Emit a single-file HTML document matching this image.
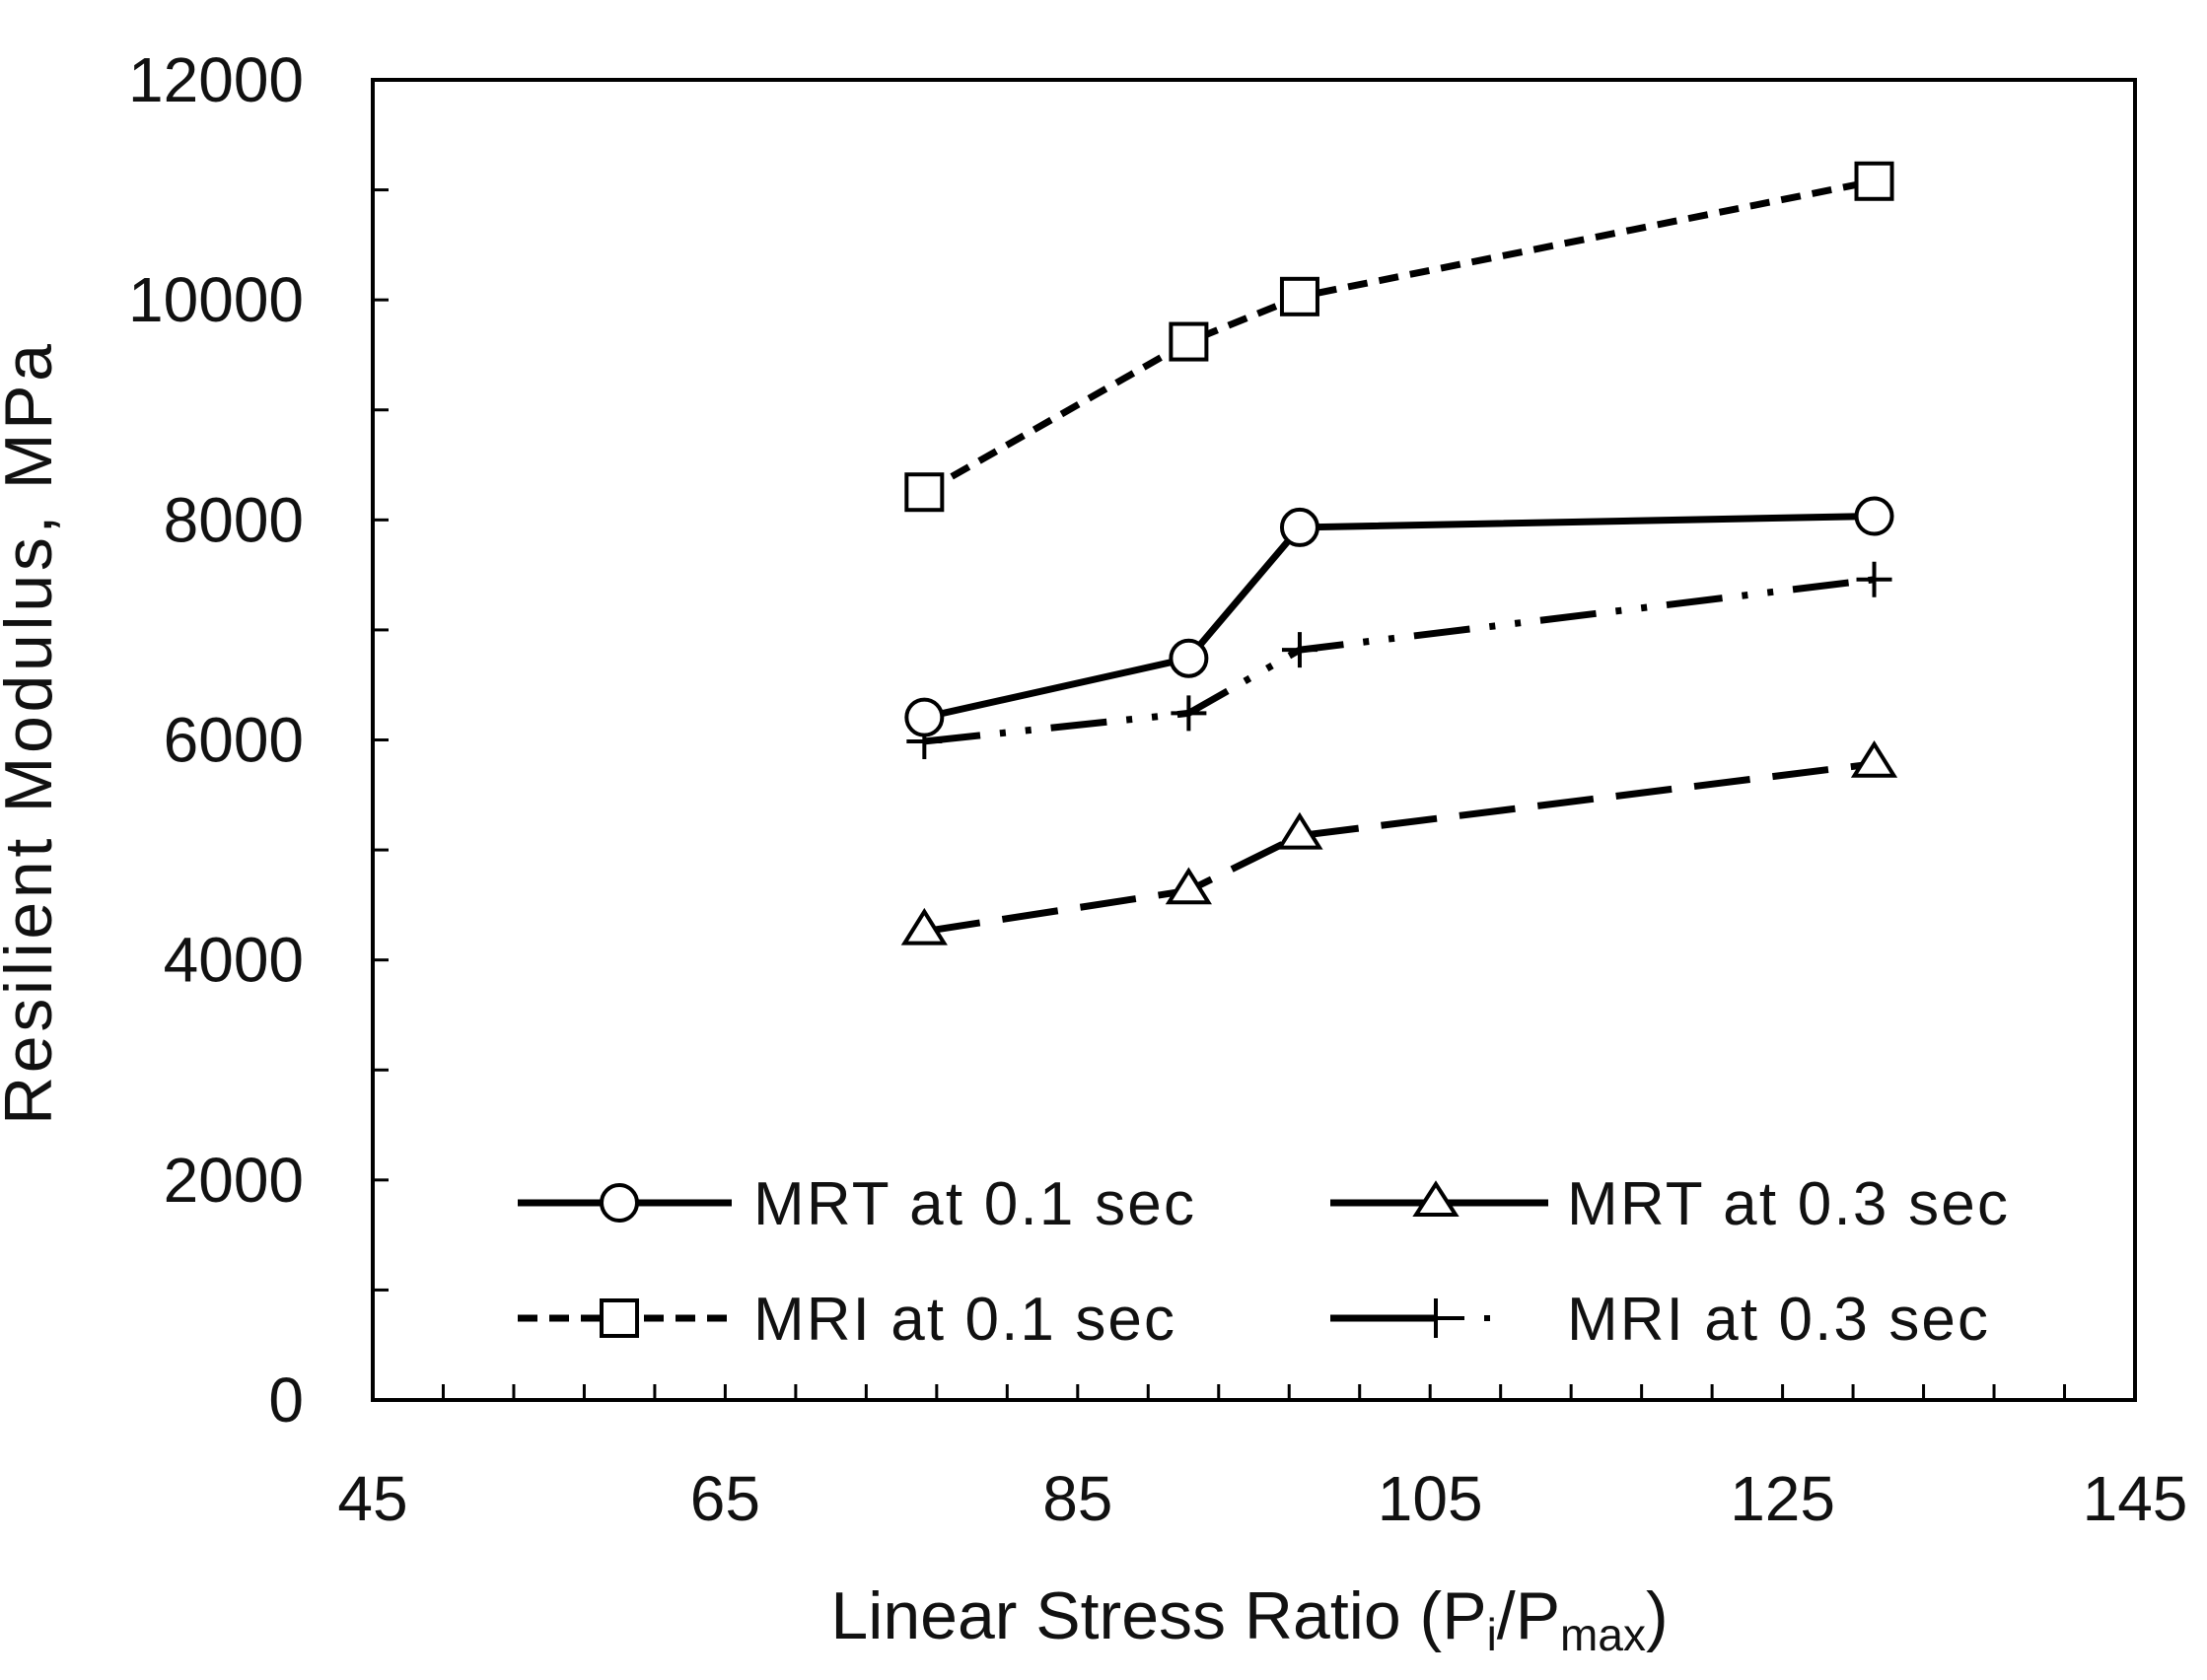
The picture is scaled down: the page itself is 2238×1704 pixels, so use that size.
<!DOCTYPE html>
<html><head><meta charset="utf-8"><style>
html,body{margin:0;padding:0;background:#fff;}
svg{display:block;font-family:"Liberation Sans",sans-serif;}
</style></head><body>
<svg id="chart" width="2238" height="1704" viewBox="0 0 2238 1704">
<rect x="378" y="81" width="1787" height="1339" fill="none" stroke="#000" stroke-width="4"/>
<g id="ticks"></g>
<g id="series"></g>
<text x="52" y="745" font-size="68" text-anchor="middle" textLength="792" transform="rotate(-90 52 745)" fill="#111">Resilient Modulus, MPa</text>
<text x="1267" y="1662" font-size="68" text-anchor="middle" fill="#111">Linear Stress Ratio (P<tspan font-size="46" dy="12">i</tspan><tspan dy="-12">/P</tspan><tspan font-size="46" dy="12">max</tspan><tspan dy="-12">)</tspan></text>
<g>
 <g>
  <line x1="525" y1="1220" x2="742" y2="1220" stroke="#000" stroke-width="7"/>
  <circle cx="628" cy="1220" r="18" fill="#fff" stroke="#000" stroke-width="4"/>
  <text x="764" y="1242" font-size="62" textLength="447" fill="#111">MRT at 0.1 sec</text>
 </g>
 <g>
  <line x1="1349" y1="1220" x2="1570" y2="1220" stroke="#000" stroke-width="7"/>
  <path d="M1456 1201 L1476 1232 L1436 1232 Z" fill="#fff" stroke="#000" stroke-width="4"/>
  <text x="1589" y="1242" font-size="62" textLength="447" fill="#111">MRT at 0.3 sec</text>
 </g>
 <g>
  <line x1="525" y1="1337" x2="742" y2="1337" stroke="#000" stroke-width="7" stroke-dasharray="20,12"/>
  <rect x="610" y="1319" width="36" height="36" fill="#fff" stroke="#000" stroke-width="4"/>
  <text x="764" y="1359" font-size="62" textLength="427" fill="#111">MRI at 0.1 sec</text>
 </g>
 <g>
  <line x1="1349" y1="1337" x2="1456" y2="1337" stroke="#000" stroke-width="7"/>
  <line x1="1456" y1="1337" x2="1485" y2="1337" stroke="#000" stroke-width="4"/>
  <rect x="1505" y="1334" width="6" height="6" fill="#000"/>
  <path d="M1456 1317 V1357 M1436 1337 H1476" stroke="#000" stroke-width="4"/>
  <text x="1589" y="1359" font-size="62" textLength="427" fill="#111">MRI at 0.3 sec</text>
 </g>
</g>
</svg>
<script>
const xValues = [76.3, 91.3, 97.6, 130.2];
const mrt01 = [6205, 6742, 7932, 8034];
const mrt03 = [4260, 4631, 5130, 5783];
const mri01 = [8252, 9620, 10030, 11079];
const mri03 = [5987, 6243, 6819, 7458];
const xTicks = [45, 65, 85, 105, 125, 145];
const yTicks = [0, 2000, 4000, 6000, 8000, 10000, 12000];

const NS = "http://www.w3.org/2000/svg";
const L = 378, R = 2165, T = 81, B = 1420;
const xs = v => L + (v - 45) / 100 * (R - L);
const ys = v => B - v / 12000 * (B - T);
function mk(tag, attrs, parent) {
  const e = document.createElementNS(NS, tag);
  for (const k in attrs) e.setAttribute(k, attrs[k]);
  parent.appendChild(e);
  return e;
}
const tg = document.getElementById("ticks");
for (let v = 45; v <= 145; v += 4) {
  const t = mk("line", {x1: xs(v), x2: xs(v), y1: B, y2: B - 16, stroke: "#000", "stroke-width": 3}, tg);
  
  
}
for (let v = 0; v <= 12000; v += 1000) {
  const t = mk("line", {x1: L, x2: L + 16, y1: ys(v), y2: ys(v), stroke: "#000", "stroke-width": 3}, tg);
  
  
}
xTicks.forEach(v => {
  const t = mk("text", {x: xs(v), y: 1542, "font-size": 64, "text-anchor": "middle", fill: "#111"}, tg);
  t.textContent = v;
  
  
});
yTicks.forEach(v => {
  const t = mk("text", {x: 308, y: ys(v) + 22, "font-size": 64, "text-anchor": "end", fill: "#111"}, tg);
  t.textContent = v;
  
  
});
const sg = document.getElementById("series");
function series(vals, dash, marker, name) {
  const g = mk("g", {}, sg);
  
  
  const pts = vals.map((v, i) => xs(xValues[i]) + "," + ys(v)).join(" ");
  const ln = mk("polyline", {points: pts, fill: "none", stroke: "#000", "stroke-width": 7, "stroke-dasharray": dash}, g);
  
  
  vals.forEach((v, i) => {
    const x = xs(xValues[i]), y = ys(v);
    let m;
    if (marker === "circle") m = mk("circle", {cx: x, cy: y, r: 18, fill: "#fff", stroke: "#000", "stroke-width": 4}, g);
    else if (marker === "square") m = mk("rect", {x: x - 18, y: y - 18, width: 36, height: 36, fill: "#fff", stroke: "#000", "stroke-width": 4}, g);
    else if (marker === "triangle") m = mk("path", {d: `M${x} ${y-20} L${x+20} ${y+12} L${x-20} ${y+12} Z`, fill: "#fff", stroke: "#000", "stroke-width": 4}, g);
    else m = mk("path", {d: `M${x} ${y-18} V${y+18} M${x-18} ${y} H${x+18}`, stroke: "#000", "stroke-width": 4}, g);
    
    
  });
}
series(mri01, "20,12", "square", "series-mri-0-1");
series(mrt03, "57,23", "triangle", "series-mrt-0-3");
series(mri03, "57,20,6,20,6,20", "plus", "series-mri-0-3");
series(mrt01, "none", "circle", "series-mrt-0-1");
</script>
</body></html>
